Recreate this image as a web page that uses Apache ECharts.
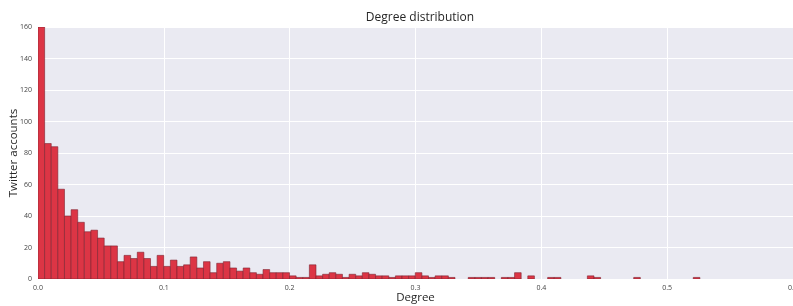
<!DOCTYPE html>
<html>
<head>
<meta charset="utf-8">
<script src="https://cdn.jsdelivr.net/npm/echarts@6/dist/echarts.min.js"></script>
<style>
  html, body { margin: 0; padding: 0; background: #fff; }
  #chart { width: 793px; height: 306px; }
</style>
</head>
<body>
<div id="chart"></div>
<script>
// histogram: 100 bins from 0 to the max degree
const maxDegree = 0.526
const binCount = 100
const counts = [
  160, 86, 84, 57, 40, 44, 36, 30, 31, 26,
  21, 21, 11, 15, 13, 17, 13, 8, 15, 8,
  12, 8, 9, 14, 7, 11, 4, 10, 11, 7,
  5, 7, 4, 3, 6, 4, 4, 4, 2, 1,
  1, 9, 2, 3, 4, 3, 1, 3, 2, 4,
  3, 2, 2, 1, 2, 2, 2, 4, 2, 1,
  2, 2, 1, 0, 0, 1, 1, 1, 1, 0,
  1, 1, 4, 0, 2, 0, 0, 1, 1, 0,
  0, 0, 0, 2, 1, 0, 0, 0, 0, 0,
  1, 0, 0, 0, 0, 0, 0, 0, 0, 1
]
const xTicks = [0, 0.1, 0.2, 0.3, 0.4, 0.5, 0.6]
const yTicks = [0, 20, 40, 60, 80, 100, 120, 140, 160]

const binWidth = maxDegree / binCount
const bins = counts.map((c, i) => [i * binWidth, (i + 1) * binWidth, c])

const chart = echarts.init(document.getElementById('chart'))
const font = 'Open Sans, Noto Sans, sans-serif'

chart.setOption({
  animation: false,
  backgroundColor: '#fff',
  title: {
    text: 'Degree distribution',
    left: 415, top: 7, textAlign: 'center',
    textStyle: { fontFamily: font, fontSize: 12, fontWeight: 'normal', color: '#262626' }
  },
  grid: {
    left: 38, right: 0, top: 27, bottom: 27,
    outerBoundsMode: 'none', containLabel: false,
    show: true, backgroundColor: '#EAEAF2', borderWidth: 0
  },
  xAxis: {
    type: 'value',
    min: xTicks[0], max: xTicks[xTicks.length - 1], interval: 0.1,
    name: 'Degree', nameLocation: 'middle', nameGap: 13, nameMoveOverlap: false,
    nameTextStyle: { fontFamily: font, fontSize: 11.5, color: '#262626' },
    axisLine: { show: false }, axisTick: { show: false },
    axisLabel: {
      fontFamily: font, fontSize: 7, color: '#444', margin: 5,
      formatter: v => v.toFixed(1)
    },
    splitLine: { show: true, lineStyle: { color: '#fff', width: 1 } }
  },
  yAxis: {
    type: 'value',
    min: yTicks[0], max: yTicks[yTicks.length - 1], interval: 20,
    name: 'Twitter accounts', nameLocation: 'middle', nameGap: 18, nameMoveOverlap: false,
    nameTextStyle: { fontFamily: font, fontSize: 11.5, color: '#262626' },
    axisLine: { show: false }, axisTick: { show: false },
    axisLabel: { fontFamily: font, fontSize: 7, color: '#444', margin: 6 },
    splitLine: { show: true, lineStyle: { color: '#fff', width: 1 } }
  },
  series: [{
    type: 'custom',
    data: bins,
    clip: true,
    renderItem: (params, api) => {
      const p0 = api.coord([api.value(0), api.value(2)])
      const p1 = api.coord([api.value(1), 0])
      if (api.value(2) <= 0) return null
      return {
        type: 'rect',
        shape: { x: p0[0], y: p0[1], width: p1[0] - p0[0], height: p1[1] - p0[1] },
        style: { fill: '#DC3545', stroke: '#7d2330', lineWidth: 0.6 }
      }
    }
  }]
})
</script>
</body>
</html>
